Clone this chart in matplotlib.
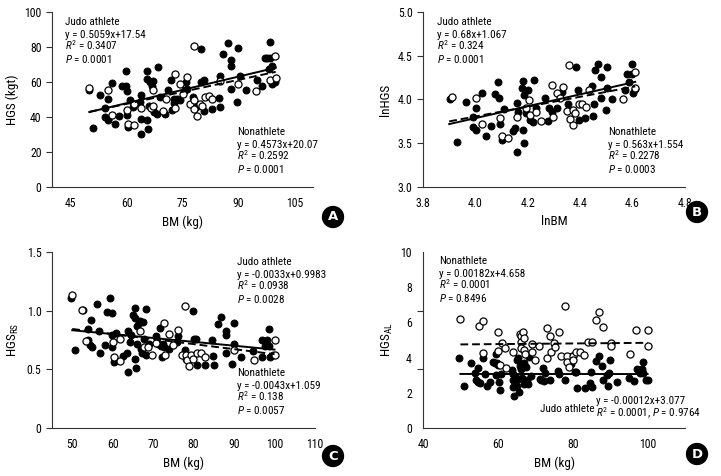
import matplotlib
matplotlib.use('Agg')
import matplotlib.pyplot as plt
from matplotlib import font_manager
from matplotlib.ticker import FixedLocator

# look for a narrow sans face, the reference uses a condensed font
fam, stretch = 'Roboto', 'normal'
names = {(f.name, f.stretch) for f in font_manager.fontManager.ttflist}
for cand in ['Liberation Sans Narrow', 'DejaVu Sans Condensed', 'Roboto Condensed', 'Open Sans Condensed']:
    if any(n == cand for n, s in names):
        fam = cand
        break
else:
    for n, s in sorted(names):
        if s in ('condensed', 'semi-condensed', 'extra-condensed', 575, 625, 500, 700) and 'Sans' in n \
                and 'CJK' not in n:
            fam, stretch = n, s
            break

plt.rcParams['font.family'] = [fam, 'DejaVu Sans']
plt.rcParams['font.stretch'] = stretch
plt.rcParams['mathtext.fontset'] = 'custom'
plt.rcParams['mathtext.rm'] = fam
plt.rcParams['mathtext.it'] = fam + ':italic'

# panel A: BM vs HGS
a_judo_x = [50, 51, 53, 54.2, 54.2, 54.9, 55.1, 55, 56, 57, 58.1, 58.7, 59.8, 59.8, 60, 60.1, 60.5, 60.8,
            61.7, 63.7, 64, 63.8, 64, 65.4, 65.4, 65.6, 66, 65.8, 66.3, 66.8, 67.2, 67.4, 68.1, 68.5, 69,
            70.2, 71, 72, 72.2, 72.6, 72.8, 73.6, 74.3, 75.6, 75.9, 76.1, 77.9, 78.6, 80, 80, 80.7, 80.9,
            82.9, 84.8, 85, 85, 85.9, 87.1, 88, 88, 88, 89.6, 89.9, 90.3, 91.9, 94.9, 96.3, 97, 97.7, 98.1,
            98.6, 98.6, 99, 99, 99.9]
a_judo_y = [55.2, 33.7, 52.8, 45, 40, 38.9, 38, 50, 59.4, 36, 40.4, 57.5, 66, 57.7, 55, 41.3, 34.3, 49.5,
            45.7, 48.6, 52.6, 30, 38.9, 38.5, 61.7, 66.3, 46, 33.3, 60, 57.7, 60.6, 43, 41.5, 68.6, 51.4,
            41.5, 55.2, 61.3, 43.8, 48, 50, 50, 49.5, 55.2, 59.8, 56, 51.4, 45.7, 78.9, 60.2, 61, 43.2,
            44.6, 51, 45.7, 63.2, 76.2, 82.3, 72.4, 69, 56, 48.4, 79.6, 63.6, 55.2, 61.3, 57.5, 73.5, 73.5,
            67.4, 83, 73.5, 69.3, 59, 60.2]
a_non_x = [49.9, 55, 56, 60.1, 60.4, 62.1, 62.1, 64, 66.5, 67, 67.2, 69.9, 70.6, 72.9, 73.1, 74.2, 75,
           76.3, 77, 78.1, 78.1, 78.2, 79, 79.8, 80.2, 81.1, 82.1, 83, 85, 90, 94.8, 98.6, 99.9, 100.1]
a_non_y = [56.4, 55.2, 41.3, 44.2, 36.2, 35.4, 47.2, 45, 45.3, 46.5, 55.2, 43.4, 50, 64.4, 45.3, 59, 53,
           62.9, 47.6, 80.8, 49.5, 44.6, 40.8, 47.6, 46.1, 51.4, 52.2, 50, 60.6, 59, 54.9, 61.3, 74.7, 62.5]

# panel B: lnBM vs lnHGS
b_judo_x = [3.904, 3.93, 3.966, 3.989, 3.991, 4.001, 4.004, 4.024, 4.039, 4.06, 4.073, 4.088, 4.09, 4.093,
            4.10, 4.111, 4.144, 4.152, 4.157, 4.16, 4.164, 4.177, 4.182, 4.18, 4.187, 4.187, 4.195, 4.20,
            4.21, 4.22, 4.223, 4.233, 4.264, 4.279, 4.281, 4.292, 4.312, 4.332, 4.355, 4.383, 4.391, 4.394,
            4.419, 4.445, 4.447, 4.452, 4.457, 4.468, 4.478, 4.48, 4.498, 4.503, 4.503, 4.521, 4.572,
            4.577, 4.585, 4.597, 4.597, 4.603, 4.611]
b_judo_y = [4.006, 3.518, 3.968, 3.80, 3.686, 3.907, 3.655, 4.074, 3.587, 3.70, 4.06, 4.204, 4.02, 3.716,
            3.533, 3.891, 3.64, 3.67, 3.96, 3.40, 3.853, 4.128, 4.211, 3.648, 3.503, 4.051, 3.846, 4.105,
            3.762, 3.739, 4.227, 3.90, 4.021, 3.754, 3.907, 3.861, 3.90, 4.082, 3.945, 4.371, 4.112, 3.762,
            3.792, 4.15, 3.815, 3.945, 4.333, 4.41, 4.257, 4.021, 3.884, 4.371, 4.135, 4.006, 4.105,
            4.288, 4.196, 4.41, 4.295, 4.074, 4.12]
b_non_x = [3.91, 4.004, 4.024, 4.093, 4.103, 4.126, 4.16, 4.192, 4.203, 4.208, 4.233, 4.251, 4.292, 4.297,
           4.31, 4.322, 4.335, 4.348, 4.358, 4.361, 4.371, 4.373, 4.381, 4.394, 4.406, 4.422, 4.432,
           4.562, 4.611, 4.611]
b_non_y = [4.029, 4.013, 3.716, 3.785, 3.587, 3.556, 3.80, 3.907, 3.99, 3.823, 3.853, 3.754, 4.166, 3.80,
           4.074, 4.021, 4.143, 3.869, 4.394, 3.777, 3.709, 3.876, 3.846, 3.952, 3.952, 3.914, 4.105,
           4.006, 4.318, 4.128]

# panel C: BM vs HGS relative
c_judo_x = [49.6, 50.8, 52.7, 53.9, 53.9, 54.5, 54.7, 55, 56.2, 56.7, 56.9, 58, 58.5, 59.4, 59.8, 59.8,
            59.9, 60.3, 60.9, 62.6, 63.6, 63.7, 63.7, 64.2, 64.5, 65, 65.4, 65.5, 65.5, 65.7, 65.9, 66,
            66.4, 66.8, 67, 67.3, 67.5, 67.8, 68.2, 68.2, 69, 70.6, 71.3, 71.8, 71.9, 72.1, 72.4, 72.6,
            73.9, 75.9, 76.2, 77.9, 78.2, 79.8, 80.2, 80.6, 80.8, 82.9, 84.6, 84.9, 85.1, 86.1, 86.7, 87.9,
            88, 88, 89.4, 89.9, 89.9, 91.7, 94.8, 96.9, 96.9, 97.7, 98.1, 98.6, 98.7, 98.9, 99.5]
c_judo_y = [1.11, 0.669, 1.005, 0.84, 0.749, 0.709, 0.919, 0.692, 1.056, 0.823, 0.64, 0.709, 0.988, 1.107,
            0.976, 0.794, 0.692, 0.566, 0.806, 0.612, 0.64, 0.481, 0.828, 0.732, 0.789, 0.959, 1.022,
            0.937, 0.584, 0.515, 0.868, 0.715, 0.891, 0.908, 0.675, 0.64, 0.902, 0.76, 1.016, 0.623, 0.715,
            0.783, 0.72, 0.851, 0.697, 0.606, 0.72, 0.692, 0.675, 0.737, 0.783, 0.663, 0.584, 0.993, 0.76,
            0.76, 0.538, 0.538, 0.749, 0.612, 0.538, 0.885, 0.948, 0.823, 0.789, 0.64, 0.549, 0.891, 0.715,
            0.606, 0.652, 0.749, 0.606, 0.697, 0.749, 0.845, 0.697, 0.606, 0.623]
c_non_x = [49.9, 52.5, 53.5, 60.1, 60.3, 61.9, 61.8, 66.8, 67.8, 68.8, 69.8, 70.6, 72.8, 73, 73.9, 74.9,
           76.2, 77.9, 77.2, 78.2, 78.3, 78.8, 79.3, 79.8, 80.9, 81.9, 82.9, 89.9, 94.9, 100, 100]
c_non_y = [1.13, 1.005, 0.743, 0.737, 0.606, 0.76, 0.572, 0.828, 0.692, 0.692, 0.623, 0.726, 0.891, 0.623,
           0.8, 0.709, 0.834, 1.039, 0.623, 0.618, 0.578, 0.527, 0.618, 0.584, 0.64, 0.64, 0.606, 0.663,
           0.578, 0.754, 0.623]

# panel D: BM vs HGS allometric
d_judo_x = [49.6, 50.9, 52.9, 53.9, 54.1, 54.6, 54.8, 55.2, 56.1, 56.6, 57, 58, 58.8, 59.3, 59.5, 59.6,
            59.8, 60, 60.4, 60.5, 60.9, 63.8, 64, 64.1, 64.1, 64.3, 64.5, 65, 65.2, 65.4, 65.5, 65.7, 65.9,
            66.3, 66.4, 66.6, 67, 67.1, 67.5, 67.7, 68, 68.4, 68.8, 71.3, 71.6, 72, 72.3, 72.5, 73.9, 76.1,
            76.4, 78, 79.6, 79.8, 80.5, 80.9, 81.1, 83.4, 84.6, 84.8, 85.2, 86.1, 87, 87.9, 88.1, 89.1,
            89.3, 89.8, 90, 91.8, 95, 96.3, 97.3, 97.9, 98.6, 98.9, 98.9, 99.5, 100]
d_judo_y = [4.0, 2.41, 3.69, 3.13, 2.71, 3.39, 2.63, 2.56, 3.96, 3.09, 2.41, 2.63, 3.77, 3.69, 3.01, 4.22,
            3.69, 3.58, 2.59, 2.18, 3.09, 3.28, 3.09, 2.33, 2.75, 1.84, 2.94, 3.84, 2.41, 4.0, 2.78, 2.06,
            3.5, 3.35, 2.86, 3.66, 3.69, 2.48, 3.47, 2.75, 2.52, 4.03, 2.94, 2.78, 2.75, 3.39, 2.67, 3.13,
            2.71, 3.24, 3.09, 2.75, 3.66, 4.11, 3.2, 3.2, 2.25, 2.25, 2.56, 3.2, 2.33, 3.81, 4.11, 3.54,
            2.75, 3.01, 2.41, 3.13, 3.84, 2.63, 2.86, 2.67, 3.35, 3.13, 3.35, 3.13, 3.77, 2.71, 2.71]
d_non_x = [50, 55, 56.1, 56.1, 60, 60, 61.1, 60.7, 62, 62.1, 64.1, 65.9, 66.1, 66.1, 66.3, 66.8, 67, 67.1,
           67.3, 69.1, 69.1, 70, 71.1, 73, 73, 73.9, 74.1, 75, 75.2, 76.3, 77, 78, 78.4, 78.6, 79.1, 80,
           80.2, 80.9, 82, 83, 84.1, 85.2, 86.3, 87.1, 88.2, 90.2, 90.2, 95.2, 97, 100, 100]
d_non_y = [6.19, 5.78, 6.06, 4.26, 5.44, 4.38, 4.83, 3.58, 4.56, 3.39, 4.3, 5.32, 5.21, 4.87, 4.53, 5.47,
           5.09, 4.45, 4.22, 4.75, 4.3, 3.88, 4.64, 5.7, 3.96, 5.21, 4.34, 4.83, 4.6, 5.44, 4.11, 6.91, 4.11,
           3.77, 3.47, 4.11, 3.84, 4.34, 4.34, 4.15, 4.91, 4.91, 6.12, 6.61, 5.74, 4.83, 4.68, 4.22, 5.55,
           5.55, 4.64]

# regression lines (slope, intercept) and x range
fits = {
    'A': [(0.5059, 17.54), (0.4573, 20.07), (50, 100)],
    'B': [(0.68, 1.067), (0.563, 1.554), (3.9, 4.61)],
    'C': [(-0.0033, 0.9983), (-0.0043, 1.059), (50, 100)],
    'D': [(-0.00012, 3.077), (0.00182, 4.658), (50, 100)],
}

W, H = 721, 476
fig = plt.figure(figsize=(W / 100, H / 100), dpi=100)

boxes = {'A': [52, 12, 313, 187], 'B': [423, 12, 685, 187],
         'C': [52, 252, 315, 428], 'D': [423, 252, 685, 428]}

def make_ax(key):
    l, t, r, b = boxes[key]
    ax = fig.add_axes([l / W, 1 - b / H, (r - l) / W, (b - t) / H])
    ax.spines['top'].set_visible(False)
    ax.spines['right'].set_visible(False)
    for s in ('left', 'bottom'):
        ax.spines[s].set_linewidth(0.8)
        ax.spines[s].set_color('#333333')
    ax.tick_params(axis='x', length=0, labelsize=8.5, pad=7)
    ax.tick_params(axis='y', length=4, width=0.8, labelsize=8.5, color='#333333')
    return ax

def draw(ax, key, jx, jy, nx_, ny):
    ax.scatter(jx, jy, s=26, c='black', edgecolors='black', linewidths=0.6, zorder=3)
    ax.scatter(nx_, ny, s=26, c='white', edgecolors='black', linewidths=0.9, zorder=3)
    (m1, c1), (m2, c2), (x0, x1) = fits[key]
    ax.plot([x0, x1], [m1 * x0 + c1, m1 * x1 + c1], color='black', lw=1.4, zorder=4)
    ax.plot([x0, x1], [m2 * x0 + c2, m2 * x1 + c2], color='black', lw=1.4, ls=(0, (4, 2)), zorder=4)

def note(ax, x, y, lines):
    # one baseline every 9 pt
    for i, s in enumerate(lines):
        ax.annotate(s, xy=(x, y), xycoords='axes fraction', xytext=(0, -9 * i),
                    textcoords='offset points', fontsize=8, va='baseline', ha='left')

# A
ax = make_ax('A')
draw(ax, 'A', a_judo_x, a_judo_y, a_non_x, a_non_y)
ax.set_xlim(40, 110)
ax.set_ylim(0, 100)
ax.set_xticks([45, 60, 75, 90, 105])
ax.set_yticks([0, 20, 40, 60, 80, 100])
ax.set_xlabel('BM (kg)', fontsize=9.5, labelpad=4)
ax.set_ylabel('HGS (kgt)', fontsize=9.5)
note(ax, 0.05, 0.924, ['Judo athlete', 'y = 0.5059x+17.54', r'$R^2$ = 0.3407', r'$P$ = 0.0001'])
note(ax, 0.708, 0.295, ['Nonathlete', 'y = 0.4573x+20.07', r'$R^2$ = 0.2592', r'$P$ = 0.0001'])

# B
ax = make_ax('B')
draw(ax, 'B', b_judo_x, b_judo_y, b_non_x, b_non_y)
ax.set_xlim(3.8, 4.8)
ax.set_ylim(3.0, 5.0)
ax.set_xticks([3.8, 4.0, 4.2, 4.4, 4.6, 4.8])
ax.set_xticklabels(['3.8', '4.0', '4.2', '4.4', '4.6', '4.8'])
ax.set_yticks([3.0, 3.5, 4.0, 4.5, 5.0])
ax.set_yticklabels(['3.0', '3.5', '4.0', '4.5', '5.0'])
ax.set_xlabel('lnBM', fontsize=9.5, labelpad=4)
ax.set_ylabel('lnHGS', fontsize=9.5)
note(ax, 0.054, 0.924, ['Judo athlete', 'y = 0.68x+1.067', r'$R^2$ = 0.324', r'$P$ = 0.0001'])
note(ax, 0.707, 0.295, ['Nonathlete', 'y = 0.563x+1.554', r'$R^2$ = 0.2278', r'$P$ = 0.0003'])

# C
ax = make_ax('C')
draw(ax, 'C', c_judo_x, c_judo_y, c_non_x, c_non_y)
ax.set_xlim(45, 110)
ax.set_ylim(0, 1.5)
ax.set_xticks([50, 60, 70, 80, 90, 100, 110])
ax.set_yticks([0, 0.5, 1.0, 1.5])
ax.set_yticklabels(['0', '0.5', '1.0', '1.5'])
ax.set_xlabel('BM (kg)', fontsize=9.5, labelpad=4)
ax.set_ylabel(r'HGS$_{\mathrm{RS}}$', fontsize=9.5)
note(ax, 0.703, 0.926, ['Judo athlete', 'y = -0.0033x+0.9983', r'$R^2$ = 0.0938', r'$P$ = 0.0028'])
note(ax, 0.703, 0.294, ['Nonathlete', 'y = -0.0043x+1.059', r'$R^2$ = 0.138', r'$P$ = 0.0057'])

# D
ax = make_ax('D')
draw(ax, 'D', d_judo_x, d_judo_y, d_non_x, d_non_y)
ax.set_xlim(40, 110)
ax.set_ylim(0, 10)
ax.set_xticks([40, 60, 80, 100])
ax.set_yticks([0, 2, 4, 6, 8, 10])
ax.tick_params(axis='y', which='major', length=0, pad=8)
ax.yaxis.set_minor_locator(FixedLocator([0, 10 / 3, 20 / 3, 10]))
ax.tick_params(axis='y', which='minor', length=4, width=0.8, color='#333333')
ax.set_xlabel('BM (kg)', fontsize=9.5, labelpad=4)
ax.set_ylabel(r'HGS$_{\mathrm{AL}}$', fontsize=9.5)
note(ax, 0.06, 0.93, ['Nonathlete', 'y = 0.00182x+4.658', r'$R^2$ = 0.0001', r'$P$ = 0.8496'])
for s, x, y in [('Judo athlete', 0.446, 0.091), ('y = -0.00012x+3.077', 0.66, 0.137),
                (r'$R^2$ = 0.0001, $P$ = 0.9764', 0.66, 0.063)]:
    ax.text(x, y, s, transform=ax.transAxes, fontsize=8, va='baseline', ha='left')

# panel letters
for lab, (px, py) in {'A': (333, 217), 'B': (697, 212), 'C': (333, 456), 'D': (697, 454)}.items():
    fig.text(px / W, 1 - py / H, lab, color='white', fontsize=9.5, fontweight='bold',
             ha='center', va='center', family='DejaVu Sans',
             bbox=dict(boxstyle='circle,pad=0.3', fc='black', ec='black'))

fig.savefig('out.png', dpi=100)
